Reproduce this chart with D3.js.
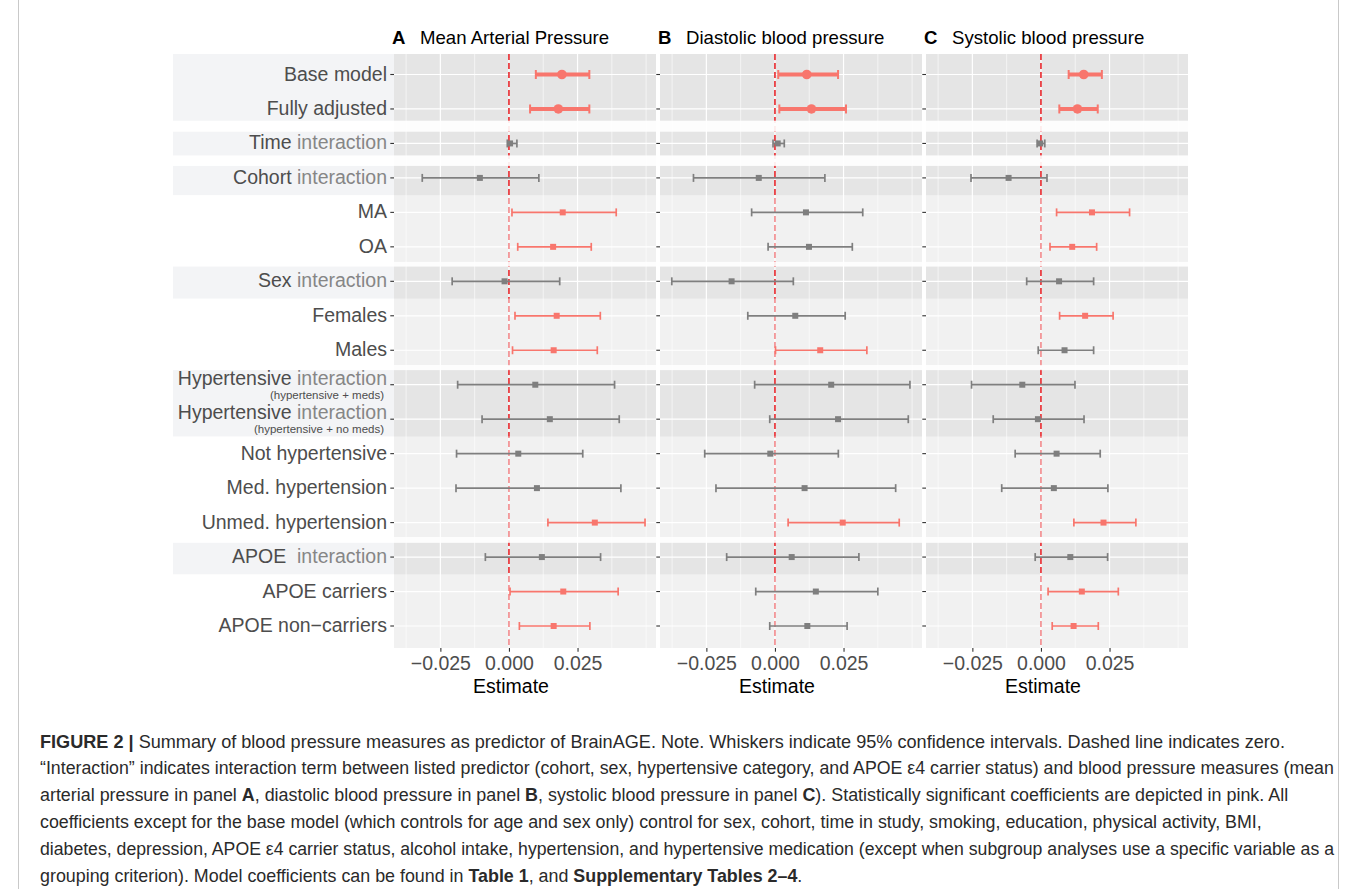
<!DOCTYPE html>
<html>
<head>
<meta charset="utf-8">
<script src="https://cdn.jsdelivr.net/npm/d3@7"></script>
<style>
  body { margin: 0; background: #fff; }
  text { font-family: "Liberation Sans", Arial, Helvetica, sans-serif; }
</style>
</head>
<body>
<div id="chart"></div>
<script>
// row labels, top to bottom ("|" separates the small second line)
var rows = [
  "Base model", "Fully adjusted", "Time interaction", "Cohort interaction", "MA", "OA",
  "Sex interaction", "Females", "Males",
  "Hypertensive interaction|(hypertensive + meds)",
  "Hypertensive interaction|(hypertensive + no meds)",
  "Not hypertensive", "Med. hypertension", "Unmed. hypertension",
  "APOE  interaction", "APOE carriers", "APOE non\u2212carriers"
];

var panelLetters = ["A", "B", "C"];
var panelTitles = ["Mean Arterial Pressure", "Diastolic blood pressure", "Systolic blood pressure"];

// A: mean arterial pressure
var estA = [0.0193, 0.0180, 0.0004, -0.0106, 0.0196, 0.0161, -0.0016, 0.0174, 0.0163, 0.0096, 0.0149, 0.0034, 0.0102, 0.0313, 0.0120, 0.0198, 0.0163];
var loA  = [0.0098, 0.0077, -0.0006, -0.0316, 0.0011, 0.0032, -0.0207, 0.0022, 0.0013, -0.0187, -0.0098, -0.0191, -0.0193, 0.0142, -0.0086, 0.0004, 0.0038];
var hiA  = [0.0293, 0.0293, 0.0029, 0.0109, 0.0391, 0.0300, 0.0185, 0.0333, 0.0322, 0.0385, 0.0402, 0.0269, 0.0408, 0.0496, 0.0334, 0.0398, 0.0295];

// B: diastolic
var estB = [0.0116, 0.0133, 0.0010, -0.0059, 0.0113, 0.0124, -0.0158, 0.0074, 0.0165, 0.0205, 0.0230, -0.0017, 0.0108, 0.0247, 0.0061, 0.0149, 0.0118];
var loB  = [0.0012, 0.0016, -0.0007, -0.0297, -0.0085, -0.0025, -0.0376, -0.0099, 0.0002, -0.0074, -0.0019, -0.0256, -0.0215, 0.0048, -0.0176, -0.0070, -0.0019];
var hiB  = [0.0230, 0.0259, 0.0034, 0.0182, 0.0320, 0.0282, 0.0067, 0.0256, 0.0335, 0.0492, 0.0486, 0.0231, 0.0440, 0.0453, 0.0306, 0.0375, 0.0263];

// C: systolic
var estC = [0.0156, 0.0133, -0.0003, -0.0118, 0.0186, 0.0114, 0.0066, 0.0161, 0.0086, -0.0068, -0.0011, 0.0057, 0.0047, 0.0228, 0.0107, 0.0149, 0.0119];
var loC  = [0.0101, 0.0067, -0.0014, -0.0255, 0.0057, 0.0033, -0.0052, 0.0068, -0.0010, -0.0253, -0.0174, -0.0094, -0.0143, 0.0120, -0.0021, 0.0026, 0.0041];
var hiC  = [0.0222, 0.0207, 0.0014, 0.0022, 0.0323, 0.0203, 0.0192, 0.0263, 0.0192, 0.0124, 0.0157, 0.0216, 0.0244, 0.0346, 0.0243, 0.0282, 0.0209];

var xTicks = [-0.025, 0, 0.025];
var xMinor = [-0.0375, -0.0125, 0.0125, 0.0375, 0.05];

// row groups: index of last row in each group, and how many leading rows are shaded dark
var groupEnds = [1, 2, 5, 8, 13, 16];
var darkCount = [2, 1, 1, 1, 2, 1];

var captionLines = [
  [["FIGURE 2 |", 1], [" Summary of blood pressure measures as predictor of BrainAGE. Note. Whiskers indicate 95% confidence intervals. Dashed line indicates zero.", 0]],
  [["\u201CInteraction\u201D indicates interaction term between listed predictor (cohort, sex, hypertensive category, and APOE \u03B54 carrier status) and blood pressure measures (mean", 0]],
  [["arterial pressure in panel ", 0], ["A", 1], [", diastolic blood pressure in panel ", 0], ["B", 1], [", systolic blood pressure in panel ", 0], ["C", 1], ["). Statistically significant coefficients are depicted in pink. All", 0]],
  [["coefficients except for the base model (which controls for age and sex only) control for sex, cohort, time in study, smoking, education, physical activity, BMI,", 0]],
  [["diabetes, depression, APOE \u03B54 carrier status, alcohol intake, hypertension, and hypertensive medication (except when subgroup analyses use a specific variable as a", 0]],
  [["grouping criterion). Model coefficients can be found in ", 0], ["Table 1", 1], [", and ", 0], ["Supplementary Tables 2\u20134", 1], [".", 0]]
];
var captionEnd = [1286, 1335, 1289, 1263, 1335, 803];

var width = 1354;
var height = 889;

var panelLeft = [394, 660, 926];
var panelW = 262;
var panelTop = 54, panelBottom = 648;
var gapPx = [11, 10.5, 5, 5.3, 6];

var pink = "#F8766D", grey = "#7F7F7F";

var svg = d3.select("#chart").append("svg")
  .attr("width", width)
  .attr("height", height);

svg.append("rect")
  .attr("x", 18.5).attr("y", -2)
  .attr("width", 1320).attr("height", height + 10)
  .attr("fill", "none")
  .attr("stroke", "#c9c9c9");

var y = d3.scalePoint().domain(rows).range([74.5, 626]);

// work out the band extents from the rows
var spans = [];
var gaps = [];
var start = 0;
groupEnds.forEach(function(end, i) {
  var t = i == 0 ? panelTop : (y(rows[start - 1]) + y(rows[start])) / 2 + gapPx[i - 1] / 2;
  var b;
  if (i == groupEnds.length - 1) {
    b = panelBottom;
  } else {
    var c = (y(rows[end]) + y(rows[end + 1])) / 2;
    b = c - gapPx[i] / 2;
    gaps.push({ c: c, h: gapPx[i] });
  }
  var darkEnd = start + darkCount[i] - 1;
  var db = darkEnd == end ? b : (y(rows[darkEnd]) + y(rows[darkEnd + 1])) / 2;
  spans.push({ top: t, bottom: b, darkBottom: db });
  start = end + 1;
});

// label strip behind the interaction rows
svg.selectAll("rect.lab")
  .data(spans)
  .enter().append("rect")
  .attr("class", "lab")
  .attr("x", 173).attr("width", panelLeft[0] - 173)
  .attr("y", function(d) { return d.top; })
  .attr("height", function(d) { return d.darkBottom - d.top; })
  .attr("fill", "#f3f4f6");

// row labels
rows.forEach(function(r) {
  var parts = r.split("|");
  var main = parts[0];
  var yy = y(r);
  var t = svg.append("text")
    .attr("x", 387)
    .attr("y", parts.length > 1 ? yy : yy + 6)
    .attr("text-anchor", "end")
    .style("font-size", "19.5px")
    .style("white-space", "pre")
    .attr("fill", "#4d4d4d");
  var k = main.indexOf("interaction");
  if (k >= 0) {
    t.append("tspan").text(main.slice(0, k));
    t.append("tspan").attr("fill", "#868686").text("interaction");
  } else {
    t.text(main);
  }
  if (parts.length > 1) {
    svg.append("text")
      .attr("x", 384)
      .attr("y", yy + 13.8)
      .attr("text-anchor", "end")
      .style("font-size", "11.5px")
      .attr("fill", "#4d4d4d")
      .text(parts[1]);
  }
});

var panels = [
  { est: estA, lo: loA, hi: hiA },
  { est: estB, lo: loB, hi: hiB },
  { est: estC, lo: loC, hi: hiC }
];

panels.forEach(function(p, pi) {
  var L = panelLeft[pi];
  var x = d3.scaleLinear().domain([-0.0419, 0.0536]).range([L, L + panelW]);
  var g = svg.append("g");

  g.append("rect")
    .attr("x", L).attr("y", panelTop)
    .attr("width", panelW).attr("height", panelBottom - panelTop)
    .attr("fill", "#e5e5e5");

  g.selectAll("line.minor")
    .data(xMinor.filter(function(v) { return x(v) >= L && x(v) <= L + panelW; }))
    .enter().append("line")
    .attr("x1", function(d) { return x(d); }).attr("x2", function(d) { return x(d); })
    .attr("y1", panelTop).attr("y2", panelBottom)
    .attr("stroke", "#fff").attr("stroke-width", 0.6);

  g.selectAll("line.major")
    .data(xTicks)
    .enter().append("line")
    .attr("x1", function(d) { return x(d); }).attr("x2", function(d) { return x(d); })
    .attr("y1", panelTop).attr("y2", panelBottom)
    .attr("stroke", "#fff").attr("stroke-width", 1.2);

  g.selectAll("line.hgrid")
    .data(rows)
    .enter().append("line")
    .attr("x1", L).attr("x2", L + panelW)
    .attr("y1", function(d) { return y(d); }).attr("y2", function(d) { return y(d); })
    .attr("stroke", "#fff").attr("stroke-width", 1.2);

  // zero line
  g.append("line")
    .attr("x1", x(0)).attr("x2", x(0))
    .attr("y1", panelTop).attr("y2", panelBottom)
    .attr("stroke", "#e8272c")
    .attr("stroke-width", 1.6)
    .attr("stroke-dasharray", "6,3");

  // lighter rows
  g.selectAll("rect.light")
    .data(spans.filter(function(s) { return s.darkBottom < s.bottom; }))
    .enter().append("rect")
    .attr("x", L).attr("width", panelW)
    .attr("y", function(d) { return d.darkBottom; })
    .attr("height", function(d) { return d.bottom - d.darkBottom; })
    .attr("fill", "#fff").attr("fill-opacity", 0.45);

  g.selectAll("rect.gap")
    .data(gaps)
    .enter().append("rect")
    .attr("x", L).attr("width", panelW)
    .attr("y", function(d) { return d.c - d.h / 2; })
    .attr("height", function(d) { return d.h; })
    .attr("fill", "#fff").attr("fill-opacity", 0.9);

  // y ticks
  g.selectAll("line.ytick")
    .data(rows)
    .enter().append("line")
    .attr("x1", L - 3.7).attr("x2", L)
    .attr("y1", function(d) { return y(d); }).attr("y2", function(d) { return y(d); })
    .attr("stroke", "#333").attr("stroke-width", 1.1);

  // x axis
  var xAxis = d3.axisBottom(x)
    .tickValues(xTicks)
    .tickFormat(d3.format(".3f"))
    .tickSize(3.7)
    .tickPadding(4);
  var ax = g.append("g")
    .attr("transform", "translate(0," + panelBottom + ")")
    .call(xAxis);
  ax.select(".domain").remove();
  ax.selectAll(".tick line").attr("stroke", "#333").attr("stroke-width", 1.1);
  ax.selectAll(".tick text")
    .attr("fill", "#4d4d4d")
    .style("font-size", "19.5px")
    .style("font-family", "\"Liberation Sans\", Arial, sans-serif");

  g.append("text")
    .attr("x", L + panelW / 2 - 14)
    .attr("y", 693)
    .attr("text-anchor", "middle")
    .style("font-size", "19.5px")
    .attr("fill", "#000")
    .text("Estimate");

  // title
  g.append("text")
    .attr("x", L - 2).attr("y", 44)
    .style("font-size", "18.6px")
    .style("font-weight", "bold")
    .attr("fill", "#000")
    .text(panelLetters[pi]);
  g.append("text")
    .attr("x", L + 26).attr("y", 44)
    .style("font-size", "18.6px")
    .attr("fill", "#000")
    .text(panelTitles[pi]);

  // error bars
  var data = rows.map(function(r, i) {
    return { row: r, i: i, est: p.est[i], lo: p.lo[i], hi: p.hi[i] };
  });
  var bars = g.selectAll("g.bar")
    .data(data)
    .enter().append("g")
    .attr("class", "bar");

  function col(d) { return (d.lo > 0 || d.hi < 0) ? pink : grey; }
  function big(d) { return d.i < 2; }

  bars.append("line")
    .attr("x1", function(d) { return x(d.lo); })
    .attr("x2", function(d) { return x(d.hi); })
    .attr("y1", function(d) { return y(d.row); })
    .attr("y2", function(d) { return y(d.row); })
    .attr("stroke", col)
    .attr("stroke-width", function(d) { return big(d) ? 4 : 1.7; });

  [function(d) { return d.lo; }, function(d) { return d.hi; }].forEach(function(f) {
    bars.append("line")
      .attr("x1", function(d) { return x(f(d)); })
      .attr("x2", function(d) { return x(f(d)); })
      .attr("y1", function(d) { return y(d.row) - (big(d) ? 4.5 : 4); })
      .attr("y2", function(d) { return y(d.row) + (big(d) ? 4.5 : 4); })
      .attr("stroke", col)
      .attr("stroke-width", function(d) { return big(d) ? 2 : 1.7; });
  });

  bars.filter(big).append("circle")
    .attr("cx", function(d) { return x(d.est); })
    .attr("cy", function(d) { return y(d.row); })
    .attr("r", 4.8)
    .attr("fill", col);

  bars.filter(function(d) { return !big(d); }).append("rect")
    .attr("x", function(d) { return x(d.est) - 3; })
    .attr("y", function(d) { return y(d.row) - 3; })
    .attr("width", 6).attr("height", 6)
    .attr("fill", col);
});

// caption
captionLines.forEach(function(line, i) {
  var t = svg.append("text")
    .attr("x", 0).attr("y", 0)
    .style("font-size", "18.5px")
    .style("white-space", "pre")
    .attr("fill", "#2a2a2a");
  line.forEach(function(seg) {
    t.append("tspan")
      .style("font-weight", seg[1] ? "bold" : "normal")
      .text(seg[0]);
  });
  var w = t.node().getComputedTextLength();
  var s = (captionEnd[i] - 40) / w;
  t.attr("transform", "translate(40," + (747.5 + i * 26.8) + ") scale(" + s + ",1)");
});
</script>
</body>
</html>
